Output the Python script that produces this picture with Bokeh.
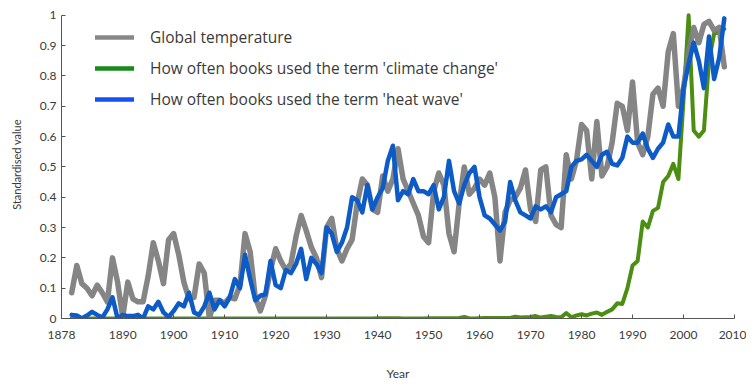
from bokeh.plotting import figure
from bokeh.models import Range1d, FixedTicker, Legend, LegendItem, ColumnDataSource
from bokeh.embed import file_html
from bokeh.resources import INLINE

years = list(range(1880, 2009))

global_temperature = [
    0.085, 0.175, 0.115, 0.100, 0.075, 0.110, 0.085, 0.055, 0.200, 0.120,  # 1880-1889
    0.005, 0.120, 0.065, 0.055, 0.055, 0.140, 0.250, 0.190, 0.115, 0.260,  # 1890-1899
    0.280, 0.210, 0.120, 0.065, 0.070, 0.180, 0.150, 0.000, 0.060, 0.060,  # 1900-1909
    0.050, 0.070, 0.065, 0.110, 0.280, 0.220, 0.070, 0.025, 0.075, 0.160,  # 1910-1919
    0.230, 0.190, 0.160, 0.180, 0.270, 0.340, 0.290, 0.235, 0.200, 0.135,  # 1920-1929
    0.300, 0.330, 0.230, 0.190, 0.230, 0.260, 0.380, 0.460, 0.440, 0.360,  # 1930-1939
    0.350, 0.470, 0.420, 0.460, 0.560, 0.460, 0.420, 0.380, 0.340, 0.270,  # 1940-1949
    0.250, 0.420, 0.480, 0.440, 0.280, 0.220, 0.380, 0.500, 0.410, 0.430,  # 1950-1959
    0.460, 0.440, 0.480, 0.400, 0.190, 0.350, 0.390, 0.400, 0.430, 0.490,  # 1960-1969
    0.360, 0.320, 0.490, 0.500, 0.340, 0.310, 0.300, 0.540, 0.460, 0.520,  # 1970-1979
    0.640, 0.620, 0.460, 0.650, 0.470, 0.500, 0.580, 0.710, 0.700, 0.620,  # 1980-1989
    0.780, 0.580, 0.540, 0.600, 0.740, 0.760, 0.700, 0.880, 0.940, 0.700,  # 1990-1999
    0.760, 0.880, 0.960, 0.910, 0.970, 0.980, 0.950, 0.960, 0.830,         # 2000-2008
]

climate_change = [
    0.0, 0.0, 0.0, 0.0, 0.0, 0.0, 0.0, 0.0, 0.0, 0.0,
    0.0, 0.0, 0.0, 0.0, 0.0, 0.0, 0.0, 0.0, 0.0, 0.0,
    0.0, 0.0, 0.0, 0.0, 0.0, 0.0, 0.0, 0.0, 0.0, 0.0,
    0.0, 0.0, 0.0, 0.0, 0.0, 0.0, 0.0, 0.0, 0.0, 0.0,
    0.0, 0.0, 0.0, 0.0, 0.0, 0.0, 0.0, 0.0, 0.0, 0.0,
    0.0, 0.0, 0.0, 0.0, 0.0, 0.0, 0.0, 0.0, 0.0, 0.0,
    0.001, 0.001, 0.001, 0.001, 0.001, 0.0, 0.0, 0.0, 0.0, 0.0,
    0.001, 0.001, 0.001, 0.001, 0.001, 0.001, 0.002, 0.005, 0.0, 0.0,
    0.001, 0.002, 0.002, 0.002, 0.002, 0.002, 0.002, 0.006, 0.003, 0.004,
    0.005, 0.008, 0.003, 0.006, 0.008, 0.005, 0.004, 0.018, 0.004, 0.010,
    0.014, 0.010, 0.016, 0.020, 0.012, 0.022, 0.030, 0.050, 0.048, 0.100,
    0.175, 0.190, 0.320, 0.300, 0.355, 0.365, 0.450, 0.470, 0.510, 0.460,
    0.720, 1.000, 0.620, 0.600, 0.620, 0.850, 0.940, 0.945, 0.955,
]

heat_wave = [
    0.012, 0.010, 0.000, 0.010, 0.022, 0.012, 0.003, 0.030, 0.070, 0.000,  # 1880-1889
    0.012, 0.008, 0.008, 0.012, 0.000, 0.040, 0.030, 0.055, 0.020, 0.005,  # 1890-1899
    0.025, 0.050, 0.040, 0.085, 0.020, 0.012, 0.040, 0.085, 0.030, 0.060,  # 1900-1909
    0.040, 0.070, 0.130, 0.100, 0.210, 0.130, 0.060, 0.075, 0.080, 0.190,  # 1910-1919
    0.110, 0.100, 0.160, 0.150, 0.180, 0.230, 0.130, 0.200, 0.180, 0.150,  # 1920-1929
    0.300, 0.280, 0.220, 0.250, 0.300, 0.400, 0.390, 0.350, 0.440, 0.360,  # 1930-1939
    0.400, 0.430, 0.520, 0.570, 0.390, 0.420, 0.410, 0.460, 0.420, 0.420,  # 1940-1949
    0.410, 0.440, 0.360, 0.400, 0.520, 0.420, 0.380, 0.440, 0.480, 0.500,  # 1950-1959
    0.400, 0.340, 0.330, 0.310, 0.290, 0.320, 0.450, 0.390, 0.350, 0.340,  # 1960-1969
    0.330, 0.370, 0.360, 0.370, 0.350, 0.400, 0.410, 0.420, 0.500, 0.520,  # 1970-1979
    0.525, 0.540, 0.520, 0.500, 0.540, 0.550, 0.510, 0.505, 0.530, 0.600,  # 1980-1989
    0.580, 0.580, 0.610, 0.560, 0.530, 0.560, 0.580, 0.640, 0.600, 0.600,  # 1990-1999
    0.760, 0.840, 0.910, 0.850, 0.760, 0.930, 0.790, 0.860, 0.990,         # 2000-2008
]

x_ticks = [1878, 1890, 1900, 1910, 1920, 1930, 1940, 1950, 1960, 1970, 1980, 1990, 2000, 2010]
y_ticks = [0, 0.1, 0.2, 0.3, 0.4, 0.5, 0.6, 0.7, 0.8, 0.9, 1]
y_tick_labels = ["0", "0.1", "0.2", "0.3", "0.4", "0.5", "0.6", "0.7", "0.8", "0.9", "1"]

series_names = [
    "Global temperature",
    "How often books used the term 'climate change'",
    "How often books used the term 'heat wave'",
]

FONT = "Lato"
TEXT = "#3a3a3a"

p = figure(width=746, height=383, output_backend="svg", toolbar_location=None,
           x_range=Range1d(1878, 2010), y_range=Range1d(0, 1.016),
           min_border_left=61, min_border_right=12, min_border_top=10, min_border_bottom=64)
p.outline_line_color = None
p.grid.visible = False
p.background_fill_color = "white"

src = ColumnDataSource(dict(year=years, temp=global_temperature, cc=climate_change, hw=heat_wave))
p.line("year", "cc", source=src, line_color="#4b8e12", line_width=4, line_join="round", line_cap="round")
p.line("year", "temp", source=src, line_color="#7e7e7e", line_width=5.5, line_alpha=0.95, line_join="round", line_cap="round")
p.line("year", "hw", source=src, line_color="#0c5bc6", line_width=4.5, line_join="round", line_cap="round")

# legend swatches (renderers with no drawable points)
nan = float("nan")
empty = ColumnDataSource(dict(x=[nan], y=[nan]))
lg_gray = p.line("x", "y", source=empty, line_color="#878787", line_width=4.5, line_cap="round")
lg_green = p.line("x", "y", source=empty, line_color="#178a17", line_width=4.5, line_cap="round")
lg_blue = p.line("x", "y", source=empty, line_color="#1650f5", line_width=4.5, line_cap="round")

legend = Legend(items=[LegendItem(label=series_names[0], renderers=[lg_gray]),
                       LegendItem(label=series_names[1], renderers=[lg_green]),
                       LegendItem(label=series_names[2], renderers=[lg_blue])],
                location=(34, 208), margin=0, padding=0, spacing=9,
                glyph_width=39, glyph_height=20, label_height=20, label_standoff=16,
                border_line_color=None, background_fill_alpha=0,
                label_text_font="Open Sans", label_text_font_size="15.5px", label_text_color=TEXT)
p.add_layout(legend, "center")

for ax in (p.xaxis[0], p.yaxis[0]):
    ax.axis_line_color = "#555555"
    ax.major_tick_line_color = "#555555"
    ax.major_tick_in = 4
    ax.major_tick_out = 0
    ax.minor_tick_line_color = None
    ax.major_label_text_font = FONT
    ax.major_label_text_font_size = "12px"
    ax.major_label_text_color = TEXT
    ax.axis_label_text_font = FONT
    ax.axis_label_text_font_style = "normal"
    ax.axis_label_text_color = TEXT

p.xaxis.ticker = FixedTicker(ticks=x_ticks)
p.xaxis.major_label_standoff = 12
p.xaxis.axis_label = "Year"
p.xaxis.axis_label_text_font_size = "12px"
p.xaxis.axis_label_standoff = 24

p.yaxis.ticker = FixedTicker(ticks=y_ticks)
p.yaxis.major_label_overrides = dict(zip(y_ticks, y_tick_labels))
p.yaxis.bounds = (0, 1)
p.yaxis.major_label_standoff = 5
p.yaxis.axis_label = "Standardised value"
p.yaxis.axis_label_text_font_size = "11px"
p.yaxis.axis_label_standoff = 14

open("out.html", "w").write(file_html(p, INLINE))
